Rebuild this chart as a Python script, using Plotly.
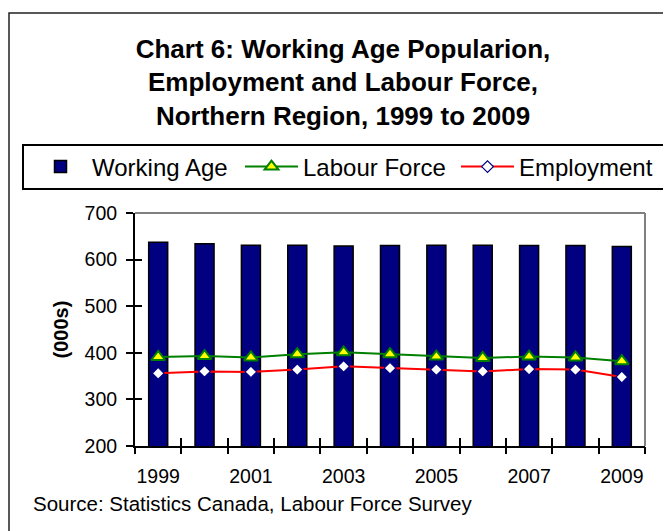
import plotly.graph_objects as go

# ---- data ----
years = [1999, 2000, 2001, 2002, 2003, 2004, 2005, 2006, 2007, 2008, 2009]
working_age = [637, 634, 631, 631, 629, 630, 631, 631, 630, 630, 628]
labour_force = [391, 393, 390, 397, 401, 397, 392, 389, 392, 390, 382]
employment = [356, 360, 359, 364, 371, 367, 364, 360, 365, 364, 348]
label_years = [1999, 2001, 2003, 2005, 2007, 2009]
y_ticks = [200, 300, 400, 500, 600, 700]

title_text = ("<b>Chart 6: Working Age Popularion,<br>Employment and Labour Force,"
              "<br>Northern Region, 1999 to 2009</b>")
source_text = "Source: Statistics Canada, Labour Force Survey"

FONT = "Liberation Sans, Arial, sans-serif"
OFF = 8  # page body margin in the browser
W, H = 671 - OFF, 531 - OFF
ML, MR, MT, MB = 135 - OFF, W - (645 - OFF), 213 - OFF, H - (446 - OFF)
PW, PH = W - ML - MR, H - MT - MB


def px_x(ref_px):
    return (ref_px - OFF - ML) / PW


def px_y(ref_py):
    return (H - MB - (ref_py - OFF)) / PH


def cx(ref_px):
    return (ref_px - OFF) / W


def cy(ref_py):
    return 1 - (ref_py - OFF) / H


x_range = [years[0] - 0.5, years[-1] + 0.5]
y_range = [y_ticks[0], y_ticks[-1]]
boundaries = [y - 0.5 for y in years] + [years[-1] + 0.5]

fig = go.Figure()
fig.add_trace(go.Bar(
    x=years, y=working_age, name="Working Age", legend="legend",
    marker=dict(color="#000080", line=dict(color="#000000", width=1.5)),
))
fig.add_trace(go.Scatter(
    x=years, y=labour_force, name="Labour Force", mode="lines+markers",
    legend="legend2", xaxis="x2", yaxis="y",
    line=dict(color="#008000", width=2),
    marker=dict(symbol="triangle-up", size=12, color="#FFFF00",
                line=dict(color="#008000", width=2)),
))
fig.add_trace(go.Scatter(
    x=years, y=employment, name="Employment", mode="lines+markers",
    legend="legend3", xaxis="x3", yaxis="y2",
    line=dict(color="#FF0000", width=2),
    marker=dict(symbol="diamond", size=9, color="#FFFFFF",
                line=dict(color="#000080", width=1.2)),
))

legend_common = dict(orientation="h", xref="container", yref="container",
                     xanchor="left", yanchor="middle", y=cy(167),
                     font=dict(family=FONT, size=24, color="black"),
                     bgcolor="rgba(0,0,0,0)", borderwidth=0, visible=True,
                     itemwidth=53)

fig.update_layout(
    width=W, height=H,
    margin=dict(l=ML, r=MR, t=MT, b=MB, autoexpand=False),
    paper_bgcolor="white", plot_bgcolor="white",
    font=dict(family=FONT, color="black", size=20),
    showlegend=True,
    bargap=0.59,
    title=dict(text=title_text, x=cx(343), xanchor="center",
               y=1 - 49.5 / H, yanchor="top", yref="container",
               font=dict(family=FONT, size=26, color="black")),
    legend=dict(x=cx(29), **legend_common),
    legend2=dict(x=cx(240), **legend_common),
    legend3=dict(x=cx(456), **legend_common),
    xaxis=dict(range=x_range, tickvals=label_years,
               ticktext=[str(v) for v in label_years],
               ticks="", showgrid=False, zeroline=False,
               showline=True, linecolor="black", linewidth=2,
               tickfont=dict(size=19.5), ticklabelstandoff=12),
    xaxis2=dict(overlaying="x", anchor="y", range=x_range, tickvals=boundaries,
                ticks="outside", ticklen=7, tickwidth=2, tickcolor="black",
                showticklabels=False, showgrid=False, zeroline=False, showline=False),
    xaxis3=dict(overlaying="x", anchor="y", range=x_range, tickvals=boundaries,
                ticks="inside", ticklen=8, tickwidth=2, tickcolor="black",
                showticklabels=False, showgrid=False, zeroline=False, showline=False),
    yaxis=dict(range=y_range, tickvals=y_ticks,
               ticks="outside", ticklen=7, tickwidth=2, tickcolor="black",
               showgrid=False, zeroline=False,
               showline=True, linecolor="black", linewidth=2,
               tickfont=dict(size=19.5), ticklabelstandoff=5,
               title=dict(text="<b>(000s)</b>", standoff=11,
                          font=dict(size=20))),
    yaxis2=dict(overlaying="y", anchor="x", range=y_range,
                tickvals=y_ticks, ticks="inside", ticklen=7, tickwidth=2,
                tickcolor="black", showticklabels=False, showgrid=False,
                zeroline=False, showline=False),
    shapes=[
        # plot-area frame (top & right, grey)
        dict(type="line", xref="paper", yref="paper", x0=0, x1=1, y0=1, y1=1,
             line=dict(color="#808080", width=2)),
        dict(type="line", xref="paper", yref="paper", x0=1, x1=1, y0=0, y1=1,
             line=dict(color="#808080", width=2)),
        # legend box
        dict(type="rect", xref="paper", yref="paper",
             x0=px_x(23), x1=px_x(668), y0=px_y(189), y1=px_y(145),
             line=dict(color="black", width=2), fillcolor="rgba(0,0,0,0)"),
        # outer chart border
        dict(type="rect", xref="paper", yref="paper",
             x0=px_x(9), x1=px_x(690), y0=px_y(550), y1=px_y(13),
             line=dict(color="#222222", width=1.5), fillcolor="rgba(0,0,0,0)"),
    ],
    annotations=[
        dict(text=source_text, xref="paper", yref="paper",
             x=px_x(31), xanchor="left", y=px_y(503), yanchor="middle",
             showarrow=False, font=dict(family=FONT, size=20.5, color="black")),
    ],
)

fig.write_html("out.html")
